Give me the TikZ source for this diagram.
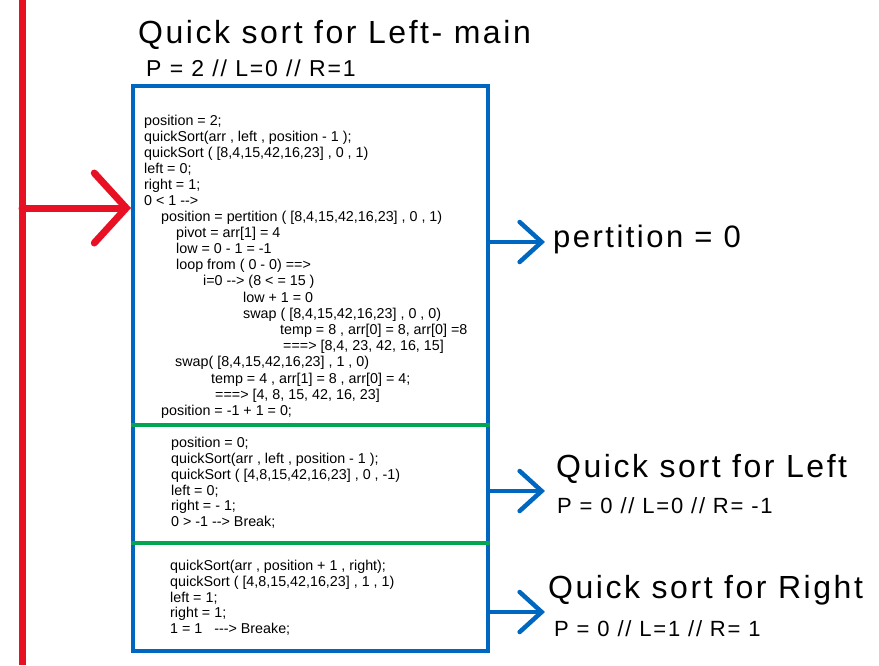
\documentclass[tikz,border=0pt]{standalone}
\usepackage{fontspec}
\setmainfont{Liberation Sans}
\newfontfamily\codefont[Ligatures=TeXOff]{Liberation Sans}
\newfontfamily\handfont[LetterSpace=8]{Liberation Sans}
\usetikzlibrary{arrows.meta}
\definecolor{inkred}{RGB}{232,17,35}
\definecolor{inkblue}{RGB}{0,103,192}
\definecolor{inkgreen}{RGB}{0,166,81}

\begin{document}
\begin{tikzpicture}[x=1pt, y=-1pt,
    codeline/.style={anchor=base west, inner sep=0pt, font={\codefont\fontsize{14.3}{16}\selectfont}},
    handtext/.style={anchor=base west, inner sep=0pt, font={\handfont\fontsize{#1}{#1}\selectfont}},
    bluearrow/.style={draw=inkblue, line width=4.5pt, line cap=round, -{Straight Barb[length=22pt, width=40pt, line cap=round]}},
    greenline/.style={draw=inkgreen, line width=3.5pt}]
    \useasboundingbox (0,0) rectangle (879,665);

    % the main frame
    \node[draw=inkblue, line width=4pt, minimum width=355pt, minimum height=565pt, inner sep=0pt] (mainbox) at (310.5,368.5) {};
    \draw[greenline] (mainbox.west |- 0,425) -- (mainbox.east |- 0,425);
    \draw[greenline] (mainbox.west |- 0,543) -- (mainbox.east |- 0,543);

    % red time line
    \draw[inkred, line width=7pt] (22,0) -- (22,665);
    \coordinate (redfoot) at (22,208);
    \draw[inkred, line width=7pt, line cap=round, -{Straight Barb[length=32pt, width=70pt, line cap=round]}] (redfoot) -- (mainbox.west |- redfoot);

    % headings
    \node[handtext=32] (title) at (138,43) {Quick sort for Left- main};
    \node[handtext=23] (titlesub) at (146,76) {P = 2 // L=0 // R=1};

    % code lines
    \foreach \xx/\yy/\txt [count=\k] in {
        144/125/{position = 2;},
        144/141/{quickSort(arr , left , position - 1 );},
        144/157/{quickSort ( [8,4,15,42,16,23] , 0 , 1)},
        144/173/{left = 0;},
        144/189/{right = 1;},
        144/205/{0 < 1 -->},
        161/221/{position = pertition ( [8,4,15,42,16,23] , 0 , 1)},
        176/237/{pivot = arr[1] = 4},
        176/253/{low = 0 - 1 = -1},
        176/269/{loop from ( 0 - 0) ==>},
        203/285/{i=0 --> (8 < = 15 )},
        243/302/{low + 1 = 0},
        243/318/{swap ( [8,4,15,42,16,23] , 0 , 0)},
        280/334/{temp = 8 , arr[0] = 8, arr[0] =8},
        283/350/{===> [8,4, 23, 42, 16, 15]},
        175/366/{swap( [8,4,15,42,16,23] , 1 , 0)},
        211/383/{temp = 4 , arr[1] = 8 , arr[0] = 4;},
        215/399/{===> [4, 8, 15, 42, 16, 23]},
        161/415/{position = -1 + 1 = 0;},
        171/447/{position = 0;},
        171/463/{quickSort(arr , left , position - 1 );},
        171/479/{quickSort ( [4,8,15,42,16,23] , 0 , -1)},
        171/495/{left = 0;},
        171/510/{right = - 1;},
        171/526/{0 > -1 --> Break;},
        170/570/{quickSort(arr , position + 1 , right);},
        170/586/{quickSort ( [4,8,15,42,16,23] , 1 , 1)},
        170/602/{left = 1;},
        170/617/{right = 1;},
        170/633/{1 = 1 \ \ ---> Breake;}}
        \node[codeline] (line\k) at (\xx,\yy) {\txt};

    % results on the right
    \node[handtext=31] (pert) at (553,247) {pertition = 0};
    \node[handtext=32] (lefttitle) at (556,477) {Quick sort for Left};
    \node[handtext=22] (leftsub) at (557,513) {P = 0 // L=0 // R= -1};
    \node[handtext=32] (righttitle) at (548,598) {Quick sort for Right};
    \node[handtext=22] (rightsub) at (554,636) {P = 0 // L=1 // R= 1};

    \coordinate (tip1) at (545,242);
    \coordinate (tip2) at (545,491);
    \coordinate (tip3) at (545,612);
    \draw[bluearrow] (mainbox.east |- tip1) -- (tip1);
    \draw[bluearrow] (mainbox.east |- tip2) -- (tip2);
    \draw[bluearrow] (mainbox.east |- tip3) -- (tip3);
\end{tikzpicture}
\end{document}
